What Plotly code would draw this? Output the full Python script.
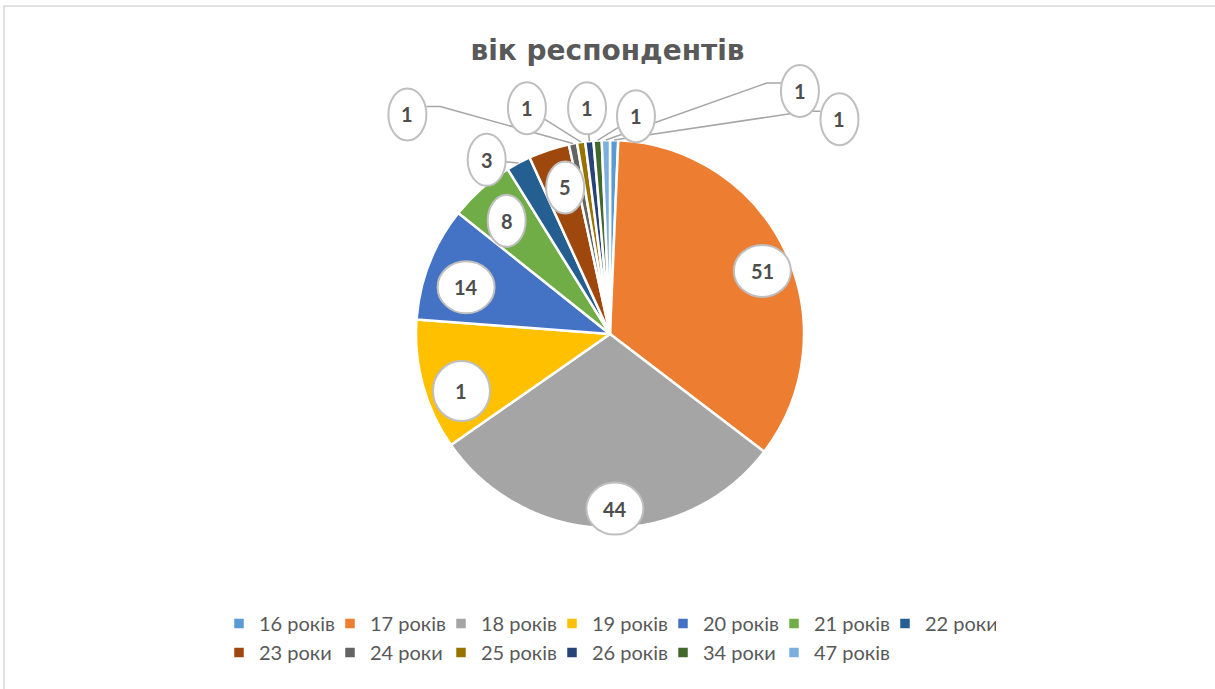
import math
import plotly.graph_objects as go

# ---- data ----
categories = ["16 років", "17 років", "18 років", "19 років", "20 років", "21 років",
              "22 роки", "23 роки", "24 роки", "25 років", "26 років", "34 роки", "47 років"]
values = [1, 51, 44, 16, 14, 8, 3, 5, 1, 1, 1, 1, 1]
label_texts = ["1", "51", "44", "1", "14", "8", "3", "5", "1", "1", "1", "1", "1"]
colors = ["#5B9BD5", "#ED7D31", "#A5A5A5", "#FFC000", "#4472C4", "#70AD47", "#255E91",
          "#9E480E", "#636363", "#997300", "#264478", "#43682B", "#7CAFDD"]

# callout placement (radius factor, angle in degrees clockwise from 12 o'clock)
label_r = [1.62, 0.85, 0.90, 0.82, 0.78, 0.79, 1.10, 0.79, 1.54, 1.24, 1.17, 1.13, 1.59]
label_angle = [46.9, 67.5, 178.4, 249.0, 288.0, 317.6, 324.7, 343.0, 317.3, 339.8, 354.2, 6.8, 38.0]

# ---- geometry ----
W_FIG, H_FIG = 1215, 689
ML, MR, MT, MB = 190, 190, 0, 0
PW, PH = W_FIG - ML - MR, H_FIG - MT - MB
CX, CY, R = 610, 334, 194


def px2paper(x, y):
    return (x - ML) / PW, 1 - (y - MT) / PH


total = sum(values)
mids = []
acc = 0.0
for v in values:
    a0 = acc / total * 360
    acc += v
    a1 = acc / total * 360
    mids.append((a0 + a1) / 2)

fig = go.Figure()
fig.add_trace(go.Pie(
    labels=categories, values=values, sort=False, direction="clockwise", rotation=0,
    marker=dict(colors=colors, line=dict(color="white", width=2.5)),
    textinfo="none", hoverinfo="label+value",
    domain=dict(x=[(CX - R - ML) / PW, (CX + R - ML) / PW],
                y=[1 - (CY + R - MT) / PH, 1 - (CY - R - MT) / PH]),
))

shapes = []
ellipses = []
annotations = []
for i, v in enumerate(values):
    ang = label_angle[i] if label_angle[i] is not None else mids[i]
    rr = label_r[i] * R
    lx = CX + rr * math.sin(math.radians(ang))
    ly = CY - rr * math.cos(math.radians(ang))
    ew = 57 if v >= 10 else 38
    eh = 60 if 15 <= v < 20 else 52
    if label_r[i] > 1.05:
        sx = CX + R * math.sin(math.radians(mids[i]))
        sy = CY - R * math.cos(math.radians(mids[i]))
        pts = [(sx, sy)]
        if abs(lx - sx) > 60:
            side = -1 if lx > sx else 1
            pts.append((lx + side * (ew / 2 + 14), ly - 8))
            pts.append((lx + side * ew / 2, ly - 8))
        else:
            pts.append((lx, ly))
        path = ""
        for k, (x, y) in enumerate(pts):
            px, py = px2paper(x, y)
            path += ("M" if k == 0 else " L") + f"{px:.5f},{py:.5f}"
        shapes.append(dict(type="path", xref="paper", yref="paper", path=path,
                           line=dict(color="#A6A6A6", width=1.5), layer="above"))
    x0, y0 = px2paper(lx - ew / 2, ly + eh / 2)
    x1, y1 = px2paper(lx + ew / 2, ly - eh / 2)
    ellipses.append(dict(type="circle", xref="paper", yref="paper", x0=x0, y0=y0, x1=x1, y1=y1,
                         fillcolor="white", line=dict(color="#BFBFBF", width=2), layer="above"))
    ax, ay = px2paper(lx, ly)
    annotations.append(dict(x=ax, y=ay, xref="paper", yref="paper", text=f"<b>{label_texts[i]}</b>",
                            showarrow=False, font=dict(family="Lato", size=20, color="#4D4D4D"),
                            xanchor="center", yanchor="middle"))

# chart frame (only left/top visible in the crop)
fx0, fy0 = px2paper(4, 6)
fx1, fy1 = px2paper(1240, 720)
frame = dict(type="rect", xref="paper", yref="paper", x0=fx0, y0=fy1, x1=fx1, y1=fy0,
             line=dict(color="#D9D9D9", width=1.5), fillcolor="rgba(0,0,0,0)", layer="below")

fig.update_layout(
    width=W_FIG, height=H_FIG,
    margin=dict(l=ML, r=MR, t=MT, b=MB),
    paper_bgcolor="white", plot_bgcolor="white",
    title=dict(text="<b>вік респондентів</b>", x=0.5, xanchor="center",
               y=1 - 50 / H_FIG, yanchor="middle",
               font=dict(family="DejaVu Sans", size=28, color="#595959")),
    showlegend=True,
    legend=dict(orientation="h", x=0.5, xanchor="center", y=1 - 604 / H_FIG, yanchor="top",
                font=dict(family="Lato", size=20, color="#595959"),
                entrywidth=66, traceorder="normal"),
    shapes=[frame] + shapes + ellipses,
    annotations=annotations,
)

fig.write_html("out.html")
